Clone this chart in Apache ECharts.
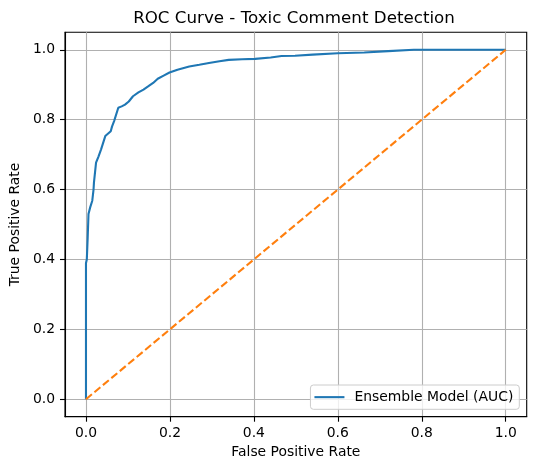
<!DOCTYPE html>
<html>
<head>
<meta charset="utf-8">
<script src="https://cdn.jsdelivr.net/npm/echarts@6/dist/echarts.min.js"></script>
<style>
html,body{margin:0;padding:0;background:#fff;}
#chart{width:536px;height:470px;}
</style>
</head>
<body>
<div id="chart"></div>
<script>
const titleText = 'ROC Curve - Toxic Comment Detection';
const xAxisName = 'False Positive Rate';
const yAxisName = 'True Positive Rate';
const seriesName = 'Ensemble Model (AUC)';
const tickValues = [0, 0.2, 0.4, 0.6, 0.8, 1.0];

const fpr = [0, 0, 0.001, 0.002, 0.004, 0.006, 0.007, 0.010, 0.015, 0.018, 0.019, 0.024, 0.030, 0.036, 0.046, 0.059, 0.062, 0.067, 0.077, 0.085, 0.093, 0.102, 0.112, 0.125, 0.137, 0.148, 0.160, 0.171, 0.185, 0.199, 0.218, 0.246, 0.270, 0.293, 0.318, 0.340, 0.372, 0.403, 0.440, 0.466, 0.498, 0.540, 0.600, 0.663, 0.720, 0.781, 0.850, 1.0];
const tpr = [0, 0.39, 0.39, 0.40, 0.46, 0.53, 0.535, 0.549, 0.568, 0.60, 0.62, 0.677, 0.695, 0.715, 0.753, 0.767, 0.78, 0.796, 0.834, 0.838, 0.843, 0.852, 0.867, 0.878, 0.886, 0.895, 0.905, 0.917, 0.926, 0.935, 0.943, 0.952, 0.957, 0.962, 0.967, 0.971, 0.973, 0.974, 0.978, 0.982, 0.983, 0.986, 0.990, 0.992, 0.996, 1.0, 1.0, 1.0];
const diagX = [0, 1];
const diagY = [0, 1];

const FONT = 'DejaVu Sans';
const rocData = fpr.map((x, i) => [x, tpr[i]]);
const diagData = diagX.map((x, i) => [x, diagY[i]]);

function axisCfg(name, isX) {
  return {
    type: 'value',
    min: -0.05,
    max: 1.05,
    name: name,
    nameLocation: 'middle',
    nameGap: isX ? 28 : 38,
    nameTextStyle: { fontFamily: FONT, fontSize: 13.9, color: '#000' },
    axisLine: { show: true, onZero: false, lineStyle: { color: '#000', width: 1.1 } },
    axisTick: { show: true, inside: false, length: 5, lineStyle: { color: '#000', width: 1.1 }, customValues: tickValues },
    axisLabel: {
      show: true, margin: 10, fontFamily: FONT, fontSize: 13.9, color: '#000',
      customValues: tickValues,
      formatter: v => v.toFixed(1)
    },
    splitLine: { show: true, lineStyle: { color: '#b0b0b0', width: 1.1 } }
  };
}

const chart = echarts.init(document.getElementById('chart'), null, { renderer: 'canvas' });
chart.setOption({
  animation: false,
  backgroundColor: '#fff',
  title: {
    text: titleText,
    left: 294,
    textAlign: 'center',
    top: 8.5,
    padding: 0,
    textStyle: { fontFamily: FONT, fontSize: 16.7, fontWeight: 'normal', color: '#000', lineHeight: 20 }
  },
  grid: {
    left: 61.7, right: 9.3, top: 32.3, bottom: 53.3,
    show: true, borderColor: '#000', borderWidth: 1.1, backgroundColor: 'transparent',
    containLabel: false
  },
  legend: {
    data: [{ name: seriesName, icon: 'rect' }],
    right: 16.7,
    bottom: 60.7,
    orient: 'horizontal',
    padding: [5, 6, 5, 4],
    itemWidth: 30,
    itemHeight: 2.1,
    itemStyle: { color: '#1f77b4', borderWidth: 0 },
    backgroundColor: 'rgba(255,255,255,0.8)',
    borderColor: '#cccccc',
    borderWidth: 1,
    borderRadius: 3,
    textStyle: { fontFamily: FONT, fontSize: 13.9, color: '#000', lineHeight: 14.3, padding: [0, 0, 0, 5] }
  },
  xAxis: axisCfg(xAxisName, true),
  yAxis: axisCfg(yAxisName, false),
  series: [
    {
      name: seriesName,
      type: 'line',
      data: rocData,
      showSymbol: false,
      symbol: 'none',
      lineStyle: { color: '#1f77b4', width: 2.1 },
      itemStyle: { color: '#1f77b4' },
      z: 3
    },
    {
      name: 'diag',
      type: 'line',
      data: diagData,
      showSymbol: false,
      symbol: 'none',
      lineStyle: { color: '#ff7f0e', width: 2.1, type: [7.7, 3.3] },
      itemStyle: { color: '#ff7f0e' },
      z: 3
    }
  ]
});
</script>
</body>
</html>
